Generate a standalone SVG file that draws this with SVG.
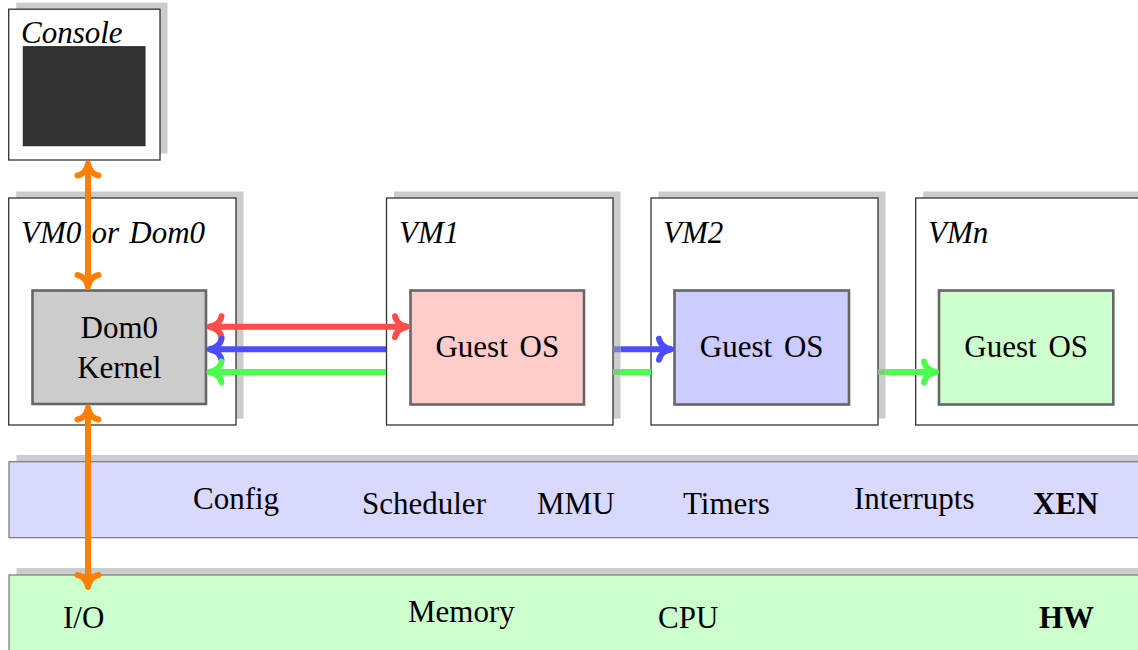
<svg xmlns="http://www.w3.org/2000/svg" width="1138" height="650" viewBox="0 0 1138 650">
<style>
.t{font-family:"Liberation Serif","Times New Roman",serif;font-size:31px;fill:#000}
.i{font-style:italic}
.b{font-weight:bold}
.m{text-anchor:middle}
.g{word-spacing:4px}
.sh{fill:#999;fill-opacity:.5}
.vm{fill:#fff;stroke:#333;stroke-width:1.3}
.os{stroke:#666;stroke-width:2.6}
.bar{stroke:#777;stroke-width:1.2}
.ln{fill:none;stroke-width:6}
.hd{fill:none;stroke-width:6;stroke-linecap:round;stroke-linejoin:round}
</style>
<defs>
<marker id="aR" markerUnits="userSpaceOnUse" orient="auto-start-reverse" refX="0" refY="0" markerWidth="30" markerHeight="30" overflow="visible"><path class="hd" stroke="#ff4d4d" d="M-12,-10.5 C-11,-5 -6,-1.2 0,0 C-6,1.2 -11,5 -12,10.5"/></marker>
<marker id="aB" markerUnits="userSpaceOnUse" orient="auto-start-reverse" refX="0" refY="0" markerWidth="30" markerHeight="30" overflow="visible"><path class="hd" stroke="#4d4dff" d="M-12,-10.5 C-11,-5 -6,-1.2 0,0 C-6,1.2 -11,5 -12,10.5"/></marker>
<marker id="aG" markerUnits="userSpaceOnUse" orient="auto-start-reverse" refX="0" refY="0" markerWidth="30" markerHeight="30" overflow="visible"><path class="hd" stroke="#4dff4d" d="M-12,-10.5 C-11,-5 -6,-1.2 0,0 C-6,1.2 -11,5 -12,10.5"/></marker>
<marker id="aO" markerUnits="userSpaceOnUse" orient="auto-start-reverse" refX="0" refY="0" markerWidth="30" markerHeight="30" overflow="visible"><path class="hd" stroke="#ff8000" d="M-12,-10.5 C-11,-5 -6,-1.2 0,0 C-6,1.2 -11,5 -12,10.5"/></marker>
</defs>

<g id="xen">
<rect class="sh" x="16.5" y="455" width="1140" height="76"/>
<rect class="bar" x="9" y="461.7" width="1140" height="76" fill="#d9d9ff"/>
<text class="t" x="193" y="509">Config</text>
<text class="t" x="362" y="514">Scheduler</text>
<text class="t" x="537" y="514">MMU</text>
<text class="t" x="683" y="514">Timers</text>
<text class="t" x="854" y="509">Interrupts</text>
<text class="t b" x="1033" y="514">XEN</text>
</g>

<g id="hw">
<rect class="sh" x="16.5" y="568" width="1140" height="90"/>
<rect class="bar" x="9" y="575" width="1140" height="90" fill="#ccffcc"/>
<text class="t" x="63" y="628">I/O</text>
<text class="t" x="408" y="621.7">Memory</text>
<text class="t" x="658" y="628">CPU</text>
<text class="t b" x="1039" y="628">HW</text>
</g>

<g id="console">
<rect class="sh" x="16.2" y="2.7" width="151.3" height="150.8"/>
<rect class="vm" x="8.7" y="9.2" width="151.3" height="150.8"/>
<rect x="23.3" y="46.7" width="121.7" height="99" fill="#333" stroke="#222" stroke-width="1"/>
<text class="t i" x="21" y="42.5">Console</text>
</g>

<g id="vm0">
<rect class="sh" x="16.2" y="191.5" width="227.3" height="227"/>
<rect class="vm" x="8.7" y="198" width="227.3" height="227"/>
<text class="t i" x="21" y="243.3" style="word-spacing:2.5px">VM0 or Dom0</text>
<g id="dom0kernel">
<rect class="os" x="32.5" y="290.5" width="173.5" height="113.5" fill="#cccccc"/>
<text class="t m" x="119.3" y="338.3">Dom0</text>
<text class="t m" x="119.3" y="378.3">Kernel</text>
</g>
</g>

<g id="vmn">
<rect class="sh" x="923.2" y="191.5" width="240" height="227"/>
<rect class="vm" x="915.7" y="198" width="240" height="227"/>
<text class="t i" x="928" y="243.3">VMn</text>
<g id="guest-n">
<rect class="os" x="939" y="290.5" width="174.3" height="114" fill="#ccffcc"/>
<text class="t m g" x="1026.2" y="357">Guest OS</text>
</g>
</g>

<g id="vm1">
<rect class="sh" x="394" y="191.5" width="226.5" height="227"/>
<rect class="vm" x="386.5" y="198" width="226.5" height="227"/>
<text class="t i" x="399" y="243.3">VM1</text>
<g id="guest-1">
<rect class="os" x="410.5" y="290.5" width="173.5" height="114" fill="#ffcccc"/>
<text class="t m g" x="497.3" y="357">Guest OS</text>
</g>
</g>

<g id="vm2">
<rect class="sh" x="658.5" y="191.5" width="227" height="227"/>
<rect class="vm" x="651" y="198" width="227" height="227"/>
<text class="t i" x="663" y="243.3">VM2</text>
<g id="guest-2">
<rect class="os" x="674.5" y="290.5" width="174.5" height="114" fill="#ccccff"/>
<text class="t m g" x="761.7" y="357">Guest OS</text>
</g>
</g>

<g id="connectors">
<path class="ln" stroke="#ff4d4d" d="M209.5,326.7 H407" marker-start="url(#aR)" marker-end="url(#aR)"/>
<path class="ln" stroke="#4d4dff" d="M209.5,349.3 H386 M620.5,349.3 H671" marker-start="url(#aB)" marker-end="url(#aB)"/>
<path class="ln" stroke="#7c7ccc" d="M613,349.3 H620.5"/>
<path class="ln" stroke="#4dff4d" d="M209.5,372 H386 M620.5,372 H651 M885.5,372 H936" marker-start="url(#aG)" marker-end="url(#aG)"/>
<path class="ln" stroke="#7ccc7c" d="M613,372 H620.5 M878,372 H885.5"/>
<path class="ln" stroke="#ff8000" d="M88,163.5 V287" marker-start="url(#aO)" marker-end="url(#aO)"/>
<path class="ln" stroke="#ff8000" d="M88,407.5 V587" marker-start="url(#aO)" marker-end="url(#aO)"/>
</g>
</svg>
